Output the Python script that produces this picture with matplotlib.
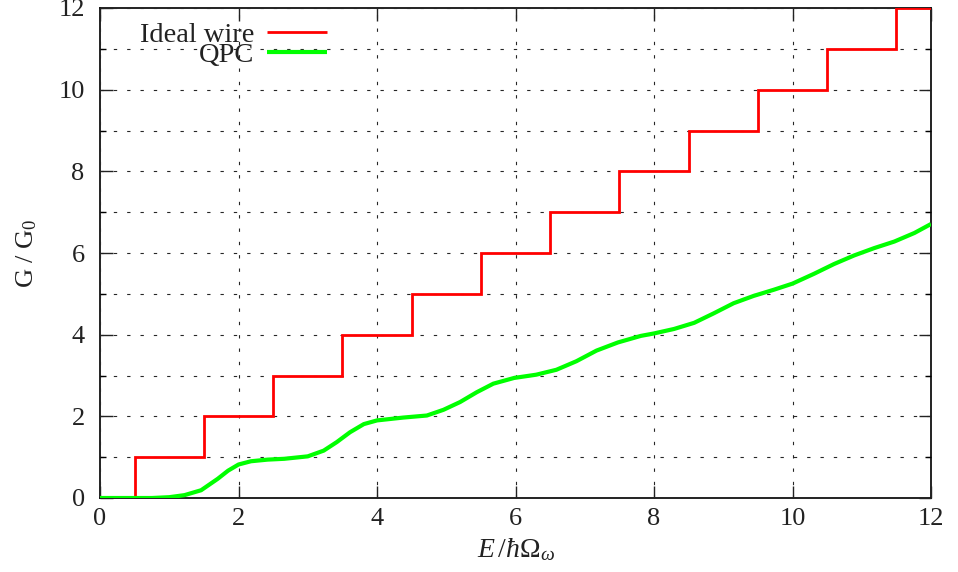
import matplotlib
matplotlib.use("Agg")
import matplotlib.pyplot as plt
from matplotlib.ticker import MultipleLocator

plt.rcParams['font.family'] = ['Liberation Serif', 'DejaVu Serif']
plt.rcParams['mathtext.fontset'] = 'custom'
plt.rcParams['mathtext.rm'] = 'Liberation Serif'
plt.rcParams['mathtext.it'] = 'Liberation Serif:italic'
plt.rcParams['mathtext.bf'] = 'Liberation Serif:bold'

# Ideal wire: quantised conductance steps (one level per subband)
wire_edges = [0.0, 0.5, 1.5, 2.5, 3.5, 4.5, 5.5, 6.5, 7.5, 8.5, 9.5, 10.5, 11.5, 12.0]
wire_levels = [0, 1, 2, 3, 4, 5, 6, 7, 8, 9, 10, 11, 12]

# Quantum point contact: smoothed conductance
qpc_energy = [0.0, 0.5, 0.75, 1.0, 1.22, 1.46, 1.70, 1.85, 2.0, 2.18, 2.42, 2.66,
              3.0, 3.23, 3.42, 3.61, 3.81, 4.0, 4.38, 4.72, 4.96, 5.2, 5.44, 5.68,
              5.98, 6.3, 6.59, 6.88, 7.17, 7.48, 7.81, 8.0, 8.29, 8.58, 8.86, 9.15,
              9.44, 9.73, 10.0, 10.31, 10.6, 10.89, 11.18, 11.47, 11.76, 12.0]
qpc_conductance = [0.0, 0.0, 0.0, 0.02, 0.07, 0.19, 0.47, 0.67, 0.82, 0.90, 0.94, 0.96,
                   1.02, 1.16, 1.37, 1.61, 1.81, 1.90, 1.97, 2.02, 2.16, 2.35, 2.59, 2.80,
                   2.94, 3.02, 3.14, 3.35, 3.61, 3.81, 3.97, 4.03, 4.14, 4.29, 4.52, 4.77,
                   4.95, 5.10, 5.25, 5.49, 5.73, 5.94, 6.12, 6.28, 6.49, 6.71]

x_ticks = [0, 2, 4, 6, 8, 10, 12]
y_ticks = [0, 2, 4, 6, 8, 10, 12]

fig = plt.figure(figsize=(9.58, 5.72), dpi=100)
ax = fig.add_axes([100 / 958, 74 / 572, 831 / 958, 490 / 572])

ax.stairs(wire_levels, wire_edges, baseline=None, color='#ff0000', linewidth=2.0, zorder=3)
ax.plot(qpc_energy, qpc_conductance, color='#00ff00', linewidth=3.0, zorder=4,
        solid_capstyle='butt', solid_joinstyle='round')

ax.set_xlim(0, 12)
ax.set_ylim(0, 12)
ax.set_xticks(x_ticks)
ax.set_yticks(y_ticks)
ax.yaxis.set_minor_locator(MultipleLocator(1))

ax.grid(True, which='major', axis='both', color='0.15', linewidth=0.8,
        linestyle=(0, (3, 9)), zorder=5)
ax.grid(True, which='minor', axis='y', color='0.15', linewidth=0.8,
        linestyle=(0, (3, 9)), zorder=5)
ax.set_axisbelow(False)

ax.tick_params(which='major', direction='in', length=9, width=1.0, top=True, right=True,
               labelsize=19, colors='#222222')
ax.tick_params(axis='y', which='major', pad=11)
ax.tick_params(axis='x', which='major', pad=7)
ax.tick_params(which='minor', direction='in', length=4, width=1.0, top=True, right=True)
for s in ax.spines.values():
    s.set_linewidth(1.3)
    s.set_color('#111111')

ax.set_xlabel(r'$E\,/\hbar\Omega_\omega$', fontsize=20, labelpad=5, color='#222222')
ax.set_ylabel(r'G / G$_0$', fontsize=19, labelpad=14, color='#222222')

# key in the top-left corner, text right-aligned before the line samples
key = [('Ideal wire', '#ff0000', 0.9306, 0.951, 2.0),
       ('QPC', '#00ff00', 0.8898, 0.910, 3.0)]
for label, col, ty, ly, lw in key:
    ax.text(0.1853, ty, label, transform=ax.transAxes, ha='right', va='baseline',
            fontsize=20.5, color='#222222', zorder=6)
    ax.plot([0.2010, 0.2732], [ly, ly], transform=ax.transAxes, color=col,
            linewidth=lw, clip_on=False, zorder=6, solid_capstyle='butt')

fig.savefig('out.png', dpi=100, facecolor='white')
